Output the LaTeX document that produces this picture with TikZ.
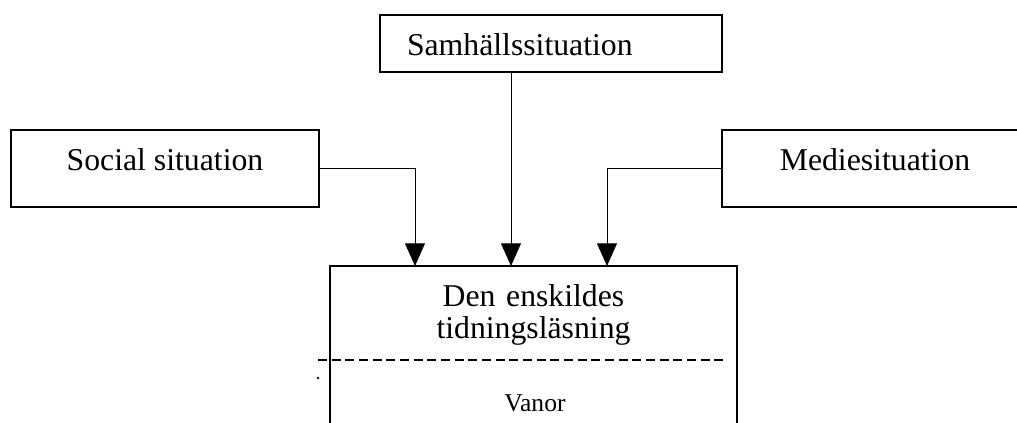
\documentclass[tikz,border=0pt]{standalone}
\usepackage{fontspec}
\setmainfont{Liberation Serif}
\usetikzlibrary{arrows.meta,calc}
\tikzset{
    box/.style={draw, line width=1.1pt, inner sep=0pt, outer sep=0pt,
        text height=30.75pt, font=\fontsize{23.8pt}{23.6pt}\selectfont},
    feed/.style={line width=0.75pt, -{Triangle[length=17pt,width=15pt]}}
}
\begin{document}
\begin{tikzpicture}[x=0.75pt, y=-0.75pt]
    \useasboundingbox (0,0) rectangle (1017,423);
    \foreach \name/\x/\w/\txt in {social/165/231pt/Social situation,medie/875/229.5pt/Mediesituation}
    {
        \node (\name) at (\x,168.5)[box, minimum width=\w, text depth=27pt] {\txt};
    }
    \node (samh) at (551,43.5)[box, inner xsep=20.25pt, text width=216pt, align=left, text depth=12pt] {Samhällssituation};
    \node (reading) at (533.5,266)[box, anchor=north, text width=305.25pt, align=center, text depth=97.5pt] {Den enskildes\\tidningsläsning};
    
    \coordinate (inS) at ($(reading.north west)+(85,0)$);
    \coordinate (inM) at ($(reading.north west)+(181,0)$);
    \coordinate (inC) at ($(reading.north west)+(277,0)$);
    \draw[feed] (social.east) -| (inS);
    \draw[feed] (samh.south -| inM) -- (inM);
    \draw[feed] (medie.west) -| (inC);
    
    \draw[line width=0.95pt, dash pattern=on 6.75pt off 3.5pt] (318,360) -- (723,360);
    \fill (318,378) circle (1.1pt);
    \node (vanor) at (535,411.7)[anchor=base, font=\fontsize{19.2pt}{19.2pt}\selectfont] {Vanor};
\end{tikzpicture}
\end{document}
